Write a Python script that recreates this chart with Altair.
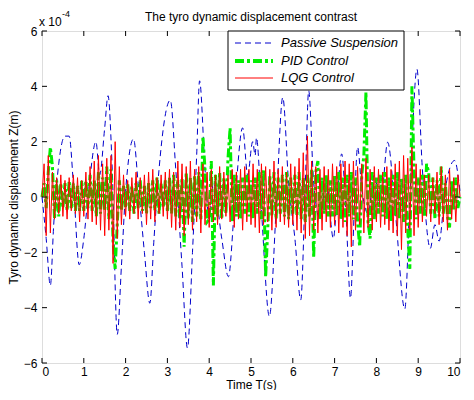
import altair as alt
import pandas as pd

chart_title = "The tyro dynamic displacement contrast"
x_label = "Time T(s)"
y_label = "Tyro dynamic displacement Z(m)"
scale_note = "x 10"
scale_exp = "-4"
series_names = ["Passive Suspension", "PID Control", "LQG Control"]
x_ticks = [0, 1, 2, 3, 4, 5, 6, 7, 8, 9, 10]
y_ticks = [-6, -4, -2, 0, 2, 4, 6]

# Passive suspension (values in units of 1e-4 m), read at turning points
passive_t = [0.0, 0.1, 0.2, 0.28, 0.4, 0.55, 0.65, 0.75, 0.89, 1.0, 1.12, 1.29, 1.38, 1.5,
             1.58, 1.68, 1.8, 1.9, 2.0, 2.19, 2.3, 2.45, 2.58, 2.68, 2.8, 3.07, 3.2, 3.35,
             3.48, 3.6, 3.7, 3.77, 3.9, 4.0, 4.1, 4.3, 4.46, 4.6, 4.8, 4.92, 5.04, 5.1,
             5.13, 5.25, 5.44, 5.6, 5.76, 5.9, 6.05, 6.19, 6.3, 6.38, 6.5, 6.65, 6.8, 6.97,
             7.07, 7.17, 7.27, 7.38, 7.47, 7.55, 7.65, 7.8, 7.95, 8.1, 8.27, 8.45, 8.68,
             8.8, 8.97, 9.1, 9.29, 9.4, 9.5, 9.65, 9.87, 10.0]
passive_z = [0.0, -1.5, -3.2, -1.0, 1.2, 2.2, 2.2, 0.5, -2.45, -1.5, 0.3, 2.0, 0.8, 2.5,
             3.66, 1.0, -4.97, -2.5, 0.2, 2.1, 0.5, -2.0, -3.84, -1.5, 1.0, 3.5, 1.0, -2.5,
             -5.46, -2.0, 1.5, 4.2, 1.0, -0.8, 0.5, -1.5, -2.88, -0.5, 2.5, 0.8, 2.0, 1.5,
             2.15, -0.5, -4.32, -0.5, 3.6, 0.5, -1.5, -3.72, 0.5, 3.84, 0.5, -0.8, 0.6, -1.5,
             0.2, 1.56, -0.5, -3.66, -0.5, 1.8, 0.3, -0.6, 0.8, -0.3, 1.98, -0.5, -4.05,
             0.0, 4.62, 1.0, -1.86, -1.0, -1.6, 0.3, 1.32, 0.2]

sample_step = 0.05
pid_z = [
    0.0, 0.5, -0.4, 0.9, 1.8, 1.1, -0.8, 0.6, -0.7, 0.5, -0.4, 0.5, -0.5, 0.6, -0.4, 0.5, -0.5, 0.4, -0.5, 0.6,
    -0.5, 0.6, -0.4, 0.8, -0.5, 0.6, -0.7, 0.9, -0.6, 0.7, -0.5, 1.1, -0.8, 1.0, -1.6, -2.6, -1.0, 0.6, -0.5, 0.4,
    -0.4, 0.5, -0.5, 0.4, -0.6, 0.5, -0.4, 0.6, -0.5, 0.4, -0.6, 0.5, -0.4, 0.6, -0.5, 0.7, -0.6, 0.5, -0.4, 0.6,
    -0.5, 0.7, -0.6, 0.8, -0.7, 0.6, -0.8, 0.7, -1.8, 0.9, -0.8, 0.7, -0.9, 0.8, -0.7, 0.9, -0.8, 2.2, 1.0, -0.9,
    -0.8, 1.3, -3.2, 0.8, -0.7, 0.9, -0.8, 0.7, -0.6, 1.4, 2.5, -0.9, 0.8, -0.7, 0.6, -0.8, 0.7, -0.6, 0.8, -0.7,
    0.6, -0.8, 0.7, -0.6, 0.9, -0.8, 1.0, -2.9, -1.2, 0.8, -0.7, 0.9, -0.8, 0.7, -0.6, 0.8, -0.7, 0.9, -0.8, 0.7,
    -0.6, 0.8, -0.7, 0.9, -0.8, 0.7, -0.9, 0.8, -0.7, 1.0, -2.2, 0.9, 1.3, -0.8, 0.7, -0.6, 0.8, -0.7, 0.6, -0.7,
    0.8, -0.7, 0.9, -0.8, 0.7, -0.9, 0.8, -0.7, 0.9, -0.8, 0.7, -0.9, -1.8, 0.8, 1.5, 3.8, -0.9, -1.5, 0.9, -0.8,
    0.7, -0.6, 0.8, -0.7, 0.9, -0.8, 0.7, -0.9, 0.8, -0.7, 0.9, -0.8, 0.7, -0.9, 0.8, -1.2, -2.6, 4.0, 1.0, -0.8,
    0.7, -0.6, 0.8, -0.7, 1.2, 0.9, -0.6, 0.7, -0.8, 0.6, -0.7, 1.1, -0.6, 0.5, -0.7, -1.1, 0.6, -0.5, 0.7, -0.4,
    0.0,
]
lqg_z = [
    0.0, 1.2, -1.4, 1.5, -1.3, 0.9, -0.8, 0.7, -0.6, 0.8, -0.7, 0.6, -0.8, 0.7, -0.5, 0.8, -0.6, 0.7, -0.9, 0.6,
    -0.7, 0.9, -0.8, 1.1, -0.9, 1.3, -1.0, 1.5, -1.2, 1.2, -1.4, 1.4, -1.2, 1.5, -2.4, 2.0, -1.5, 1.1, -1.0, 0.8,
    -0.7, 0.6, -0.8, 0.7, -0.6, 0.9, -0.8, 0.7, -0.6, 0.8, -1.0, 0.9, -0.8, 1.0, -0.9, 0.7, -0.6, 0.8, -0.7, 0.9,
    -0.8, 1.0, -1.1, 0.9, -1.2, 1.3, -1.1, 1.2, -1.4, 1.1, -1.0, 1.3, -1.2, 1.0, -0.9, 1.1, -1.3, 1.2, -1.0, 0.9,
    -1.1, 1.0, -0.9, 0.8, -1.0, 1.1, -0.8, 0.9, -0.7, 0.8, -0.9, 1.0, -1.1, 0.9, -0.8, 1.0, -1.2, 1.1, -0.9, 1.0,
    -1.0, 1.2, -1.1, 1.0, -1.3, 1.2, -1.0, 1.1, -0.9, 1.0, -1.2, 1.3, -1.1, 1.0, -0.9, 1.1, -1.0, 0.9, -1.1, 1.2,
    -1.0, 1.1, -1.2, 1.4, -1.3, 1.6, -1.5, 2.2, -1.4, 1.3, -1.2, 1.1, -1.3, 1.0, -1.2, 1.1, -0.9, 1.0, -1.1, 1.2,
    -1.0, 1.1, -1.3, 1.2, -1.1, 1.3, -1.4, 1.2, -1.8, 1.3, -1.2, 1.1, -1.0, 1.2, -1.3, 1.4, -1.1, 1.0, -1.2, 1.1,
    -0.9, 1.0, -1.1, 0.9, -1.0, 1.1, -1.2, 1.0, -1.3, 1.2, -1.4, 1.3, -1.9, 1.5, -1.3, 1.4, -1.2, 1.8, -1.4, 1.2,
    -1.1, 1.0, -0.9, 0.8, -0.7, 0.8, -0.9, 0.7, -0.6, 0.9, -1.0, 1.1, -0.9, 0.8, -1.2, 1.0, -0.8, 0.7, -0.9, 0.8,
    0.0,
]

FONT = "Liberation Sans"
W, H = 418, 332

passive_df = pd.DataFrame({"t": passive_t, "z": passive_z})
pid_df = pd.DataFrame({"t": [round(i * sample_step, 2) for i in range(len(pid_z))], "z": pid_z})
lqg_df = pd.DataFrame({"t": [round(i * sample_step, 2) for i in range(len(lqg_z))], "z": lqg_z})

xscale = alt.Scale(domain=[0, 10], nice=False, zero=False)
yscale = alt.Scale(domain=[-6, 6], nice=False, zero=False)
axis_common = dict(ticks=False, domain=False, grid=False, format="d",
                   labelFont=FONT, labelFontSize=12, labelColor="black",
                   titleFont=FONT, titleFontSize=12, titleFontWeight="normal", titleColor="black")
xaxis = alt.Axis(values=x_ticks, title=x_label, labelPadding=3, titlePadding=2, **axis_common)
yaxis = alt.Axis(values=y_ticks, title=y_label, labelPadding=5, titlePadding=3, **axis_common)

passive = alt.Chart(passive_df).mark_line(
    color="#0000cc", strokeWidth=1, strokeDash=[6, 4], interpolate="monotone"
).encode(x=alt.X("t:Q", scale=xscale, axis=xaxis), y=alt.Y("z:Q", scale=yscale, axis=yaxis))

pid = alt.Chart(pid_df).mark_line(
    color="#00ee00", strokeWidth=3, strokeDash=[9, 3, 3, 3], strokeCap="butt"
).encode(x="t:Q", y="z:Q")

lqg = alt.Chart(lqg_df).mark_line(color="#ff0000", strokeWidth=1).encode(x="t:Q", y="z:Q")

one = pd.DataFrame({"k": [0]})
xt = pd.DataFrame({"v": x_ticks})
yt = pd.DataFrame({"v": y_ticks})
tick_bottom = alt.Chart(xt).mark_rule(color="black").encode(x="v:Q", y=alt.value(H), y2=alt.value(H - 5))
tick_top = alt.Chart(xt).mark_rule(color="black").encode(x="v:Q", y=alt.value(0), y2=alt.value(5))
tick_left = alt.Chart(yt).mark_rule(color="black").encode(y="v:Q", x=alt.value(0), x2=alt.value(5))
tick_right = alt.Chart(yt).mark_rule(color="black").encode(y="v:Q", x=alt.value(W), x2=alt.value(W - 5))

title_mark = alt.Chart(one).mark_text(align="center", baseline="alphabetic", font=FONT, fontSize=12,
                                      color="black").encode(x=alt.value(W / 2), y=alt.value(-10),
                                                            text=alt.value(chart_title))
note = alt.Chart(one).mark_text(align="left", baseline="alphabetic", font=FONT, fontSize=12,
                                color="black").encode(x=alt.value(-3), y=alt.value(-5), text=alt.value(scale_note))
note_exp = alt.Chart(one).mark_text(align="left", baseline="alphabetic", font=FONT, fontSize=9,
                                    color="black").encode(x=alt.value(20), y=alt.value(-14), text=alt.value(scale_exp))

leg_box = alt.Chart(one).mark_rect(fill="white", stroke="black", strokeWidth=1).encode(
    x=alt.value(186), x2=alt.value(362), y=alt.value(0), y2=alt.value(59))
rows_y = [12, 30, 47]
styles = [
    dict(color="#0000cc", strokeWidth=1, strokeDash=[6, 4]),
    dict(color="#00ee00", strokeWidth=4, strokeDash=[9, 3, 3, 3], strokeCap="butt"),
    dict(color="#ff0000", strokeWidth=1),
]
legend_layers = [leg_box]
for name, ry, st in zip(series_names, rows_y, styles):
    legend_layers.append(alt.Chart(one).mark_rule(**st).encode(
        x=alt.value(193), x2=alt.value(231), y=alt.value(ry)))
    legend_layers.append(alt.Chart(one).mark_text(
        align="left", baseline="middle", font=FONT, fontSize=13, fontStyle="italic", color="black"
    ).encode(x=alt.value(239), y=alt.value(ry), text=alt.value(name)))

chart = alt.layer(
    passive, pid, lqg, tick_bottom, tick_top, tick_left, tick_right, title_mark, note, note_exp,
    *legend_layers
).properties(
    width=W, height=H,
    autosize=alt.AutoSizeParams(type="none"),
    padding={"left": 34, "top": 23, "right": 6, "bottom": 27},
).configure_view(stroke="black", strokeWidth=1).configure(background="white")

chart.save("out.html", embed_options={"renderer": "svg", "actions": False})
